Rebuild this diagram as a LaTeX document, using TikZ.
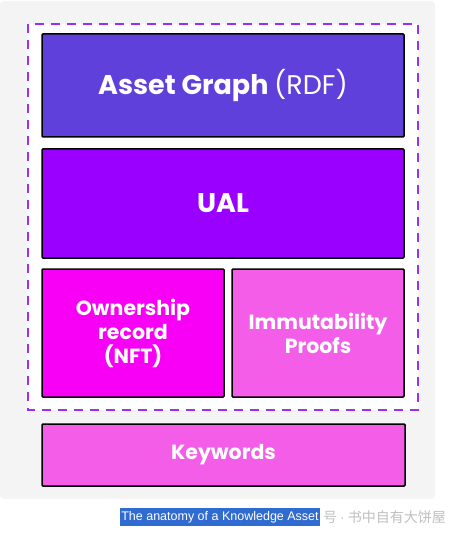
\documentclass[tikz,border=0pt]{standalone}
\usepackage{fontspec}
\setmainfont{Poppins}
\newfontfamily\capfont{Liberation Sans}
\newfontfamily\cjkfont{Noto Sans CJK SC}

\definecolor{pagegray}{HTML}{F4F4F4}
\definecolor{graphblue}{HTML}{5F40DB}
\definecolor{ualpurple}{HTML}{9900FF}
\definecolor{nftmagenta}{HTML}{F800F5}
\definecolor{proofpink}{HTML}{F35DE8}
\definecolor{dashpurple}{HTML}{9B30F0}
\definecolor{markblue}{HTML}{2F6BD1}

\begin{document}
\begin{tikzpicture}[x=1pt,y=-1pt,
  layer/.style={draw=black,line width=1.5pt,rounded corners=1pt,text=white,
    align=center,inner sep=0pt,font=\bfseries\fontsize{20.5}{24}\selectfont},
  bigtext/.style={font=\bfseries\fontsize{27}{30}\selectfont}]
  \useasboundingbox (0,0) rectangle (464,540);
  \fill[pagegray,rounded corners=4pt] (0,1) rectangle (435,499);
  \draw[dashpurple,fill=white,line width=2.4pt,dash pattern=on 9pt off 7pt]
    (28,24) rectangle (418,410);

  % the layers of the asset
  \node[layer,bigtext,fill=graphblue,minimum width=362,minimum height=103]
    (graph) at (223,85.5) {Asset Graph \mdseries(RDF)};
  \node[layer,bigtext,fill=ualpurple,minimum width=362,minimum height=109]
    (ual) at (223,203.5) {UAL};
  \node[layer,fill=nftmagenta,minimum width=182,minimum height=128]
    (nft) at (133,333) {Ownership\\record\\(NFT)};
  \node[layer,fill=proofpink,minimum width=172,minimum height=128]
    (proofs) at (318,333) {Immutability\\Proofs};
  \node[layer,fill=proofpink,minimum width=363,minimum height=62]
    (keywords) at (223.5,455) {Keywords};

  % caption under the picture
  \node[fill=markblue,text=white,inner xsep=1pt,inner ysep=3pt,
    font=\capfont\fontsize{12.5}{14}\selectfont] (caption) at (220,517)
    {The anatomy of a Knowledge Asset};
  \node[anchor=west,text=black!25,inner sep=0pt,
    font=\cjkfont\fontsize{14}{14}\selectfont] (mark) at (323,517)
    {号\hspace{3pt}{\capfont·}\hspace{3pt}书中自有大饼屋};
\end{tikzpicture}
\end{document}
